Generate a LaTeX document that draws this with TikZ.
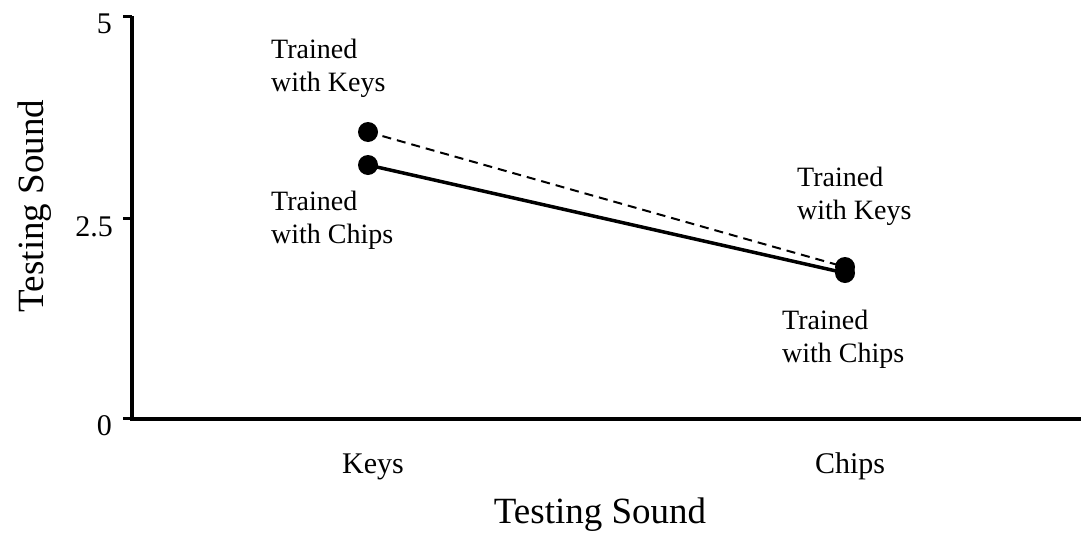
\documentclass[tikz,border=0pt]{standalone}
\usepackage{fontspec}
\setmainfont{Liberation Serif}
\begin{document}
\begin{tikzpicture}[x=1pt,y=-1pt,
  axisline/.style={line width=4pt},
  tickline/.style={line width=3pt},
  dot/.style={circle,fill=black,inner sep=0pt,minimum size=20pt},
  solidconn/.style={line width=3.5pt},
  dashconn/.style={line width=2pt,dash pattern=on 9pt off 6pt},
  ticklabel/.style={anchor=base east,inner sep=0pt,font=\fontsize{30}{34}\selectfont},
  catlabel/.style={anchor=base,inner sep=0pt,font=\fontsize{30}{34}\selectfont},
  titlelabel/.style={anchor=base,inner sep=0pt,font=\fontsize{37}{42}\selectfont},
  annot/.style={anchor=base west,inner sep=0pt,align=left,font=\fontsize{28}{33}\selectfont}]
\useasboundingbox (0,0) rectangle (1081,533);
% axes
\coordinate (ytop) at (132,16);
\coordinate (origin) at (132,419);
\coordinate (xend) at (1081,419);
\draw[axisline] (ytop) -- (origin) -- (xend);
% ticks
\coordinate (t5a) at (123,16);  \coordinate (t5b) at (132,16);
\coordinate (t25a) at (123,218); \coordinate (t25b) at (132,218);
\coordinate (t0a) at (123,418); \coordinate (t0b) at (132,418);
\draw[tickline] (t5a) -- (t5b);
\draw[tickline] (t25a) -- (t25b);
\draw[tickline] (t0a) -- (t0b);
\node[ticklabel] (l5) at (112,33) {5};
\node[ticklabel] (l25) at (113,236) {2.5};
\node[ticklabel] (l0) at (112,435) {0};
% category labels
\node[catlabel] (keys) at (373,473) {Keys};
\node[catlabel] (chips) at (850,473) {Chips};
% titles
\node[titlelabel] (xtitle) at (600,523) {Testing Sound};
\node[titlelabel,rotate=90] (ytitle) at (43,206) {Testing Sound};
% data points
\node[dot] (kk) at (368,132) {};
\node[dot] (kc) at (368,165) {};
\node[dot] (ck) at (845,267) {};
\node[dot] (cc) at (845,273) {};
\draw[dashconn] (kk.center) -- (ck.center);
\draw[solidconn] (kc.center) -- (cc.center);
% annotations (anchor at baseline of last line)
\node[annot] (a1) at (271,91) {Trained\\with Keys};
\node[annot] (a2) at (271,243) {Trained\\with Chips};
\node[annot] (a3) at (797,219) {Trained\\with Keys};
\node[annot] (a4) at (782,362) {Trained\\with Chips};
\end{tikzpicture}
\end{document}
